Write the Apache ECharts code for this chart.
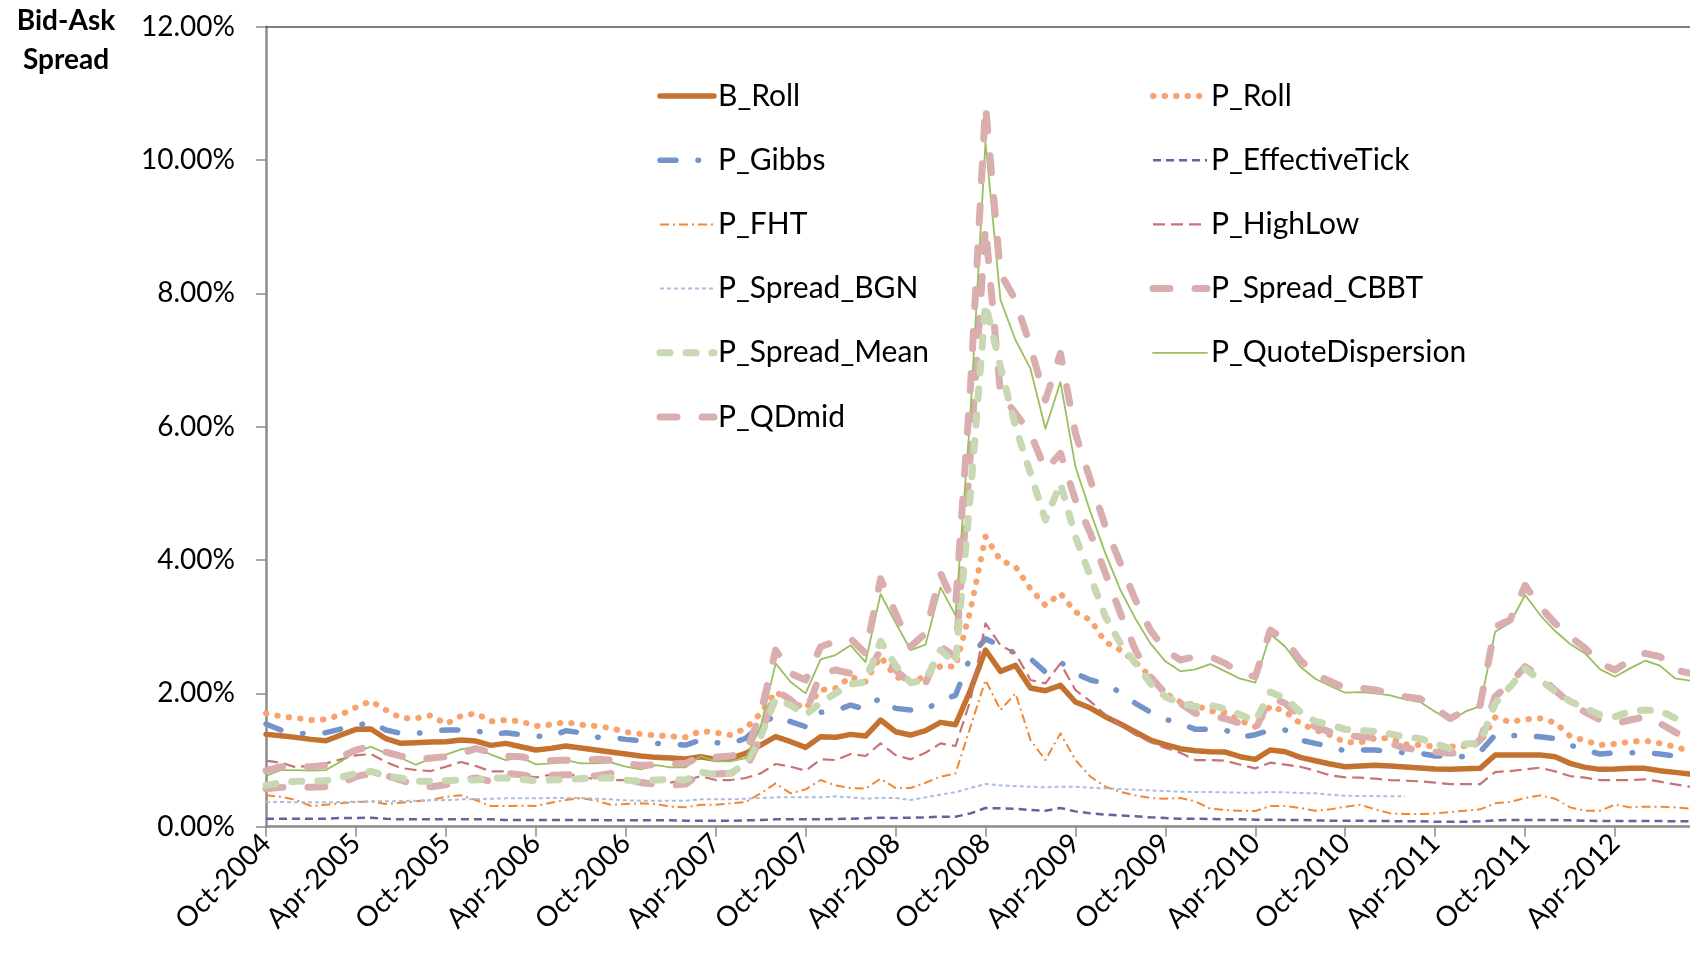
<!DOCTYPE html>
<html>
<head>
<meta charset="utf-8">
<script src="https://cdn.jsdelivr.net/npm/echarts@6/dist/echarts.min.js"></script>
<style>
html,body{margin:0;padding:0;background:#fff;}
#chart{width:1690px;height:960px;}
</style>
</head>
<body>
<div id="chart"></div>
<script>
const categories = [
"Oct-2004","Nov-2004","Dec-2004","Jan-2005","Feb-2005","Mar-2005","Apr-2005","May-2005","Jun-2005","Jul-2005","Aug-2005","Sep-2005",
"Oct-2005","Nov-2005","Dec-2005","Jan-2006","Feb-2006","Mar-2006","Apr-2006","May-2006","Jun-2006","Jul-2006","Aug-2006","Sep-2006",
"Oct-2006","Nov-2006","Dec-2006","Jan-2007","Feb-2007","Mar-2007","Apr-2007","May-2007","Jun-2007","Jul-2007","Aug-2007","Sep-2007",
"Oct-2007","Nov-2007","Dec-2007","Jan-2008","Feb-2008","Mar-2008","Apr-2008","May-2008","Jun-2008","Jul-2008","Aug-2008","Sep-2008",
"Oct-2008","Nov-2008","Dec-2008","Jan-2009","Feb-2009","Mar-2009","Apr-2009","May-2009","Jun-2009","Jul-2009","Aug-2009","Sep-2009",
"Oct-2009","Nov-2009","Dec-2009","Jan-2010","Feb-2010","Mar-2010","Apr-2010","May-2010","Jun-2010","Jul-2010","Aug-2010","Sep-2010",
"Oct-2010","Nov-2010","Dec-2010","Jan-2011","Feb-2011","Mar-2011","Apr-2011","May-2011","Jun-2011","Jul-2011","Aug-2011","Sep-2011",
"Oct-2011","Nov-2011","Dec-2011","Jan-2012","Feb-2012","Mar-2012","Apr-2012","May-2012","Jun-2012","Jul-2012","Aug-2012","Sep-2012"
];

const yTicks = [0, 2, 4, 6, 8, 10, 12];

const B_Roll = [
1.385,1.365,1.34,1.31,1.29,1.375,1.46,1.465,1.32,1.25,1.26,1.27,1.275,1.30,1.285,1.22,
1.25,1.20,1.15,1.175,1.21,1.18,1.15,1.12,1.09,1.06,1.04,1.03,1.015,1.05,1.01,
1.025,1.10,1.225,1.35,1.275,1.19,1.35,1.34,1.385,1.36,1.60,1.425,1.375,1.44,1.565,1.53,
2.05,2.65,2.33,2.42,2.08,2.04,2.12,1.87,1.78,1.65,1.54,1.42,1.30,1.23,1.17,
1.14,1.125,1.12,1.05,1.01,1.15,1.125,1.04,0.99,0.94,0.90,0.91,0.92,0.91,0.895,0.88,
0.865,0.86,0.87,0.875,1.075,1.075,1.075,1.075,1.05,0.95,0.89,0.86,0.865,0.875,0.875,0.84,0.815,0.79
];
const P_Roll = [
1.70,1.655,1.63,1.60,1.61,1.68,1.79,1.885,1.75,1.63,1.625,1.67,1.54,1.66,1.70,1.58,
1.60,1.58,1.51,1.53,1.57,1.53,1.51,1.48,1.42,1.39,1.37,1.355,1.34,1.435,1.41,
1.375,1.475,1.70,2.025,1.875,1.775,2.05,2.075,2.25,2.175,2.55,2.25,2.175,2.25,2.41,2.40,
3.25,4.35,4.0,3.9,3.57,3.32,3.5,3.22,3.1,2.77,2.65,2.47,2.25,2.0,1.87,
1.825,1.735,1.715,1.59,1.50,1.81,1.725,1.55,1.45,1.375,1.265,1.265,1.325,1.325,1.235,1.225,
1.20,1.20,1.21,1.26,1.64,1.57,1.61,1.625,1.56,1.36,1.29,1.225,1.24,1.275,1.29,1.25,1.20,1.13
];
const P_Gibbs = [
1.54,1.45,1.41,1.385,1.41,1.465,1.51,1.575,1.45,1.40,1.395,1.435,1.45,1.45,1.445,1.375,
1.41,1.38,1.36,1.35,1.44,1.41,1.34,1.34,1.31,1.29,1.25,1.24,1.225,1.30,1.26,
1.25,1.325,1.525,1.675,1.575,1.5,1.715,1.74,1.825,1.76,1.94,1.775,1.75,1.75,1.9,1.97,
2.55,2.82,2.71,2.6,2.52,2.32,2.47,2.3,2.2,2.15,2.01,1.85,1.72,1.61,1.55,
1.46,1.46,1.45,1.34,1.38,1.45,1.45,1.30,1.25,1.2,1.135,1.15,1.15,1.125,1.11,1.10,
1.06,1.06,1.05,1.125,1.375,1.37,1.36,1.35,1.32,1.225,1.15,1.09,1.11,1.11,1.115,1.09,1.06,1.01
];
const P_EffectiveTick = [
0.12,0.12,0.12,0.12,0.12,0.13,0.13,0.135,0.12,0.11,0.11,0.11,0.11,0.11,0.11,0.11,
0.10,0.10,0.10,0.10,0.10,0.10,0.10,0.095,0.095,0.095,0.095,0.095,0.09,0.09,0.09,
0.09,0.095,0.10,0.11,0.11,0.11,0.11,0.115,0.12,0.125,0.135,0.13,0.135,0.14,0.15,0.15,
0.20,0.28,0.275,0.27,0.25,0.24,0.28,0.23,0.20,0.18,0.17,0.155,0.14,0.13,0.12,
0.12,0.115,0.11,0.11,0.105,0.105,0.10,0.10,0.095,0.09,0.09,0.09,0.085,0.085,0.08,0.08,
0.075,0.075,0.075,0.08,0.095,0.10,0.10,0.10,0.10,0.095,0.09,0.085,0.085,0.085,0.085,0.085,0.08,0.08
];
const P_FHT = [
0.47,0.45,0.40,0.31,0.33,0.35,0.37,0.38,0.34,0.36,0.38,0.40,0.45,0.47,0.40,0.31,
0.31,0.315,0.31,0.36,0.40,0.43,0.39,0.33,0.34,0.35,0.34,0.30,0.29,0.33,0.33,
0.35,0.37,0.50,0.65,0.50,0.56,0.70,0.62,0.58,0.57,0.72,0.58,0.58,0.66,0.75,0.80,
1.5,2.2,1.75,2.0,1.3,1.0,1.4,1.0,0.75,0.6,0.52,0.47,0.43,0.42,0.43,
0.38,0.27,0.25,0.24,0.235,0.31,0.31,0.28,0.24,0.26,0.30,0.33,0.26,0.20,0.19,0.19,
0.20,0.22,0.24,0.26,0.35,0.37,0.43,0.47,0.42,0.29,0.24,0.24,0.33,0.29,0.30,0.30,0.29,0.27
];
const P_HighLow = [
0.99,0.96,0.89,0.92,0.95,1.01,1.07,1.09,0.97,0.88,0.85,0.835,0.90,0.97,0.91,0.83,
0.83,0.77,0.74,0.78,0.80,0.75,0.71,0.70,0.70,0.69,0.69,0.665,0.69,0.76,0.70,
0.70,0.73,0.80,0.94,0.90,0.84,1.01,1.0,1.09,1.06,1.25,1.075,1.01,1.11,1.25,1.21,
1.9,3.05,2.72,2.6,2.2,2.15,2.45,2.05,1.88,1.68,1.52,1.38,1.27,1.18,1.11,
1.0,1.0,0.99,0.93,0.875,0.96,0.93,0.90,0.84,0.77,0.74,0.735,0.72,0.70,0.69,0.68,
0.66,0.64,0.64,0.64,0.82,0.835,0.86,0.885,0.83,0.76,0.735,0.70,0.70,0.70,0.71,0.675,0.635,0.60
];
const P_Spread_BGN = [
0.37,0.37,0.365,0.365,0.365,0.37,0.375,0.38,0.38,0.385,0.39,0.395,0.40,0.41,0.415,0.42,
0.425,0.425,0.425,0.43,0.43,0.43,0.42,0.41,0.395,0.39,0.39,0.39,0.39,0.41,0.41,
0.41,0.42,0.43,0.44,0.44,0.44,0.44,0.455,0.44,0.42,0.43,0.43,0.40,0.44,0.48,0.52,
0.58,0.64,0.62,0.61,0.60,0.59,0.60,0.60,0.585,0.575,0.565,0.555,0.545,0.535,0.525,
0.52,0.52,0.515,0.51,0.51,0.52,0.515,0.505,0.50,0.48,0.465,0.46,0.46,0.455,0.455,null,
null,null,null,null,null,null,null,null,null,null,null,null,null,null,null,null,null,null
];
const P_Spread_CBBT = [
0.57,0.59,0.59,0.59,0.60,0.65,0.75,0.80,0.77,0.70,0.62,0.60,0.63,0.70,0.73,0.68,
0.80,0.78,0.74,0.77,0.78,0.77,0.76,0.80,0.72,0.66,0.64,0.62,0.64,0.80,0.79,
0.80,0.85,1.35,2.05,1.9,1.7,2.3,2.35,2.3,2.25,2.65,2.35,2.15,2.15,2.7,2.55,
5.6,9.0,6.5,6.2,5.9,5.35,5.6,4.9,4.4,3.8,3.2,2.65,2.25,2.0,1.85,
1.70,1.68,1.62,1.55,1.45,1.95,1.85,1.65,1.5,1.42,1.37,1.35,1.34,1.25,1.18,1.15,
1.12,1.10,1.12,1.3,1.95,2.15,2.4,2.25,2.05,1.85,1.72,1.6,1.55,1.6,1.65,1.55,1.42,1.3
];
const P_Spread_Mean = [
0.62,0.66,0.68,0.68,0.69,0.74,0.80,0.83,0.76,0.73,0.68,0.68,0.69,0.70,0.70,0.73,
0.73,0.71,0.69,0.70,0.71,0.72,0.73,0.73,0.70,0.68,0.70,0.71,0.70,0.82,0.78,
0.80,0.95,1.35,1.92,1.82,1.68,1.86,2.0,2.14,2.17,2.78,2.42,2.16,2.2,2.65,2.45,
5.0,7.84,6.9,6.0,5.3,4.6,5.15,4.35,3.75,3.15,2.75,2.45,2.15,1.95,1.85,
1.80,1.82,1.77,1.68,1.58,2.02,1.93,1.72,1.58,1.53,1.46,1.44,1.43,1.39,1.35,1.32,
1.25,1.17,1.24,1.25,1.85,2.1,2.37,2.2,2.03,1.88,1.78,1.68,1.65,1.73,1.75,1.74,1.63,1.58
];
const P_QuoteDispersion = [
0.76,0.85,0.85,0.84,0.85,0.98,1.12,1.20,1.10,1.03,0.93,1.02,1.08,1.16,1.20,1.08,
1.0,1.04,0.935,0.95,1.0,0.95,0.95,0.965,0.90,0.86,0.925,0.89,0.89,1.06,0.98,
0.98,1.03,1.5,2.45,2.17,2.0,2.51,2.575,2.72,2.47,3.49,3.06,2.65,2.73,3.59,3.17,
6.2,10.27,7.9,7.3,6.87,5.97,6.67,5.4,4.72,4.1,3.55,3.12,2.75,2.48,2.33,
2.36,2.44,2.33,2.22,2.16,2.89,2.70,2.40,2.22,2.11,2.01,2.02,2.0,1.97,1.91,1.87,
1.725,1.59,1.725,1.81,2.925,3.06,3.475,3.175,2.935,2.74,2.6,2.36,2.25,2.375,2.49,2.415,2.225,2.19
];
const P_QDmid = [
0.84,0.90,0.90,0.90,0.92,1.05,1.15,1.21,1.12,1.06,1.0,1.03,1.05,1.10,1.17,1.12,
1.06,1.05,1.0,0.99,1.0,0.98,1.01,1.0,0.95,0.92,0.93,0.94,0.95,1.05,1.04,
1.06,1.1,1.7,2.65,2.3,2.2,2.7,2.78,2.82,2.6,3.72,3.2,2.7,2.9,3.8,3.3,
6.6,10.82,8.3,7.9,7.2,6.4,7.1,5.9,5.2,4.5,3.95,3.4,2.95,2.65,2.5,
2.55,2.55,2.45,2.3,2.25,2.95,2.8,2.5,2.28,2.18,2.08,2.08,2.05,2.0,1.95,1.92,
1.78,1.62,1.75,1.82,3.0,3.1,3.62,3.3,3.05,2.85,2.68,2.45,2.35,2.5,2.6,2.55,2.35,2.3
];

const legendCol1 = ['B_Roll','P_Gibbs','P_FHT','P_Spread_BGN','P_Spread_Mean','P_QDmid'];
const legendCol2 = ['P_Roll','P_EffectiveTick','P_HighLow','P_Spread_CBBT','P_QuoteDispersion'];

const FONT = 'Lato, "Open Sans", sans-serif';
const PINK = '#DAAEAE';

const styles = {
  B_Roll:            { data: B_Roll, color: '#C4722F', width: 5.5, dash: null, cap: 'round' },
  P_Roll:            { data: P_Roll, color: '#F8A36E', width: 6, dash: [0.5, 11], cap: 'round' },
  P_Gibbs:           { data: P_Gibbs, color: '#7394CA', width: 5.5, dash: [16, 22, 0.5, 22], cap: 'round' },
  P_EffectiveTick:   { data: P_EffectiveTick, color: '#765AA0', width: 2.5, dash: [8, 5], cap: 'butt' },
  P_FHT:             { data: P_FHT, color: '#F08732', width: 2, dash: [9, 4, 2, 4], cap: 'butt' },
  P_HighLow:         { data: P_HighLow, color: '#C87373', width: 2.2, dash: [12, 6], cap: 'butt' },
  P_Spread_BGN:      { data: P_Spread_BGN, color: '#AABEE1', width: 2, dash: [4, 3], cap: 'butt' },
  P_Spread_CBBT:     { data: P_Spread_CBBT, color: PINK, width: 7, dash: [17, 25], cap: 'round' },
  P_Spread_Mean:     { data: P_Spread_Mean, color: '#C8D8B2', width: 7, dash: [10, 16], cap: 'round' },
  P_QuoteDispersion: { data: P_QuoteDispersion, color: '#9BBE5F', width: 1.8, dash: null, cap: 'round' },
  P_QDmid:           { data: P_QDmid, color: PINK, width: 7, dash: [17, 25], cap: 'round' }
};
const seriesOrder = ['B_Roll','P_Roll','P_Gibbs','P_EffectiveTick','P_FHT','P_HighLow','P_Spread_BGN','P_Spread_CBBT','P_Spread_Mean','P_QuoteDispersion','P_QDmid'];

const series = seriesOrder.map(function (name) {
  const s = styles[name];
  return {
    name: name, type: 'line', data: s.data, symbol: 'none', showSymbol: false,
    connectNulls: false, animation: false, silent: true,
    lineStyle: { color: s.color, width: s.width, type: s.dash || 'solid', cap: s.cap, join: 'round' },
    itemStyle: { color: s.color },
    emphasis: { disabled: true }
  };
});

// hand-built legend (two columns)
const graphics = [];
const rowY0 = 96, rowStep = 64.2;
function addLegendCol(names, x0) {
  names.forEach(function (name, i) {
    const s = styles[name];
    const y = rowY0 + i * rowStep;
    graphics.push({
      type: 'line', silent: true,
      shape: { x1: x0 + 3, y1: y, x2: x0 + 57, y2: y },
      style: { stroke: s.color, lineWidth: s.width, lineDash: s.dash, lineCap: s.cap }
    });
    graphics.push({
      type: 'text', silent: true, x: x0 + 61, y: y,
      style: { text: name, font: '30px ' + FONT, fill: '#000', verticalAlign: 'middle', align: 'left' }
    });
  });
}
addLegendCol(legendCol1, 657);
addLegendCol(legendCol2, 1150);
graphics.push({
  type: 'text', silent: true, x: 66, y: 2,
  style: { text: 'Bid-Ask\nSpread', font: 'bold 28px ' + FONT, fill: '#000', align: 'center', verticalAlign: 'top', lineHeight: 38.5 }
});

const chart = echarts.init(document.getElementById('chart'), null, { renderer: 'canvas' });
chart.setOption({
  animation: false,
  backgroundColor: '#fff',
  grid: { left: 266, right: -1, top: 26.7, bottom: 133.3, containLabel: false },
  xAxis: [{
    type: 'category', data: categories, boundaryGap: false,
    axisLine: { show: true, lineStyle: { color: '#8C8C8C', width: 2.5 } },
    axisTick: { show: true, interval: 5, length: 10, lineStyle: { color: '#8C8C8C', width: 1.5 } },
    axisLabel: { interval: 5, rotate: 45, margin: 12, fontFamily: FONT, fontSize: 28, color: '#000' },
    splitLine: { show: false }
  }, {
    type: 'category', data: categories, boundaryGap: false, position: 'top',
    axisLine: { show: true, lineStyle: { color: '#555', width: 1.5 } },
    axisTick: { show: false }, axisLabel: { show: false }, splitLine: { show: false }
  }],
  yAxis: {
    type: 'value', min: yTicks[0], max: yTicks[yTicks.length - 1], interval: 2,
    axisLine: { show: true, lineStyle: { color: '#8C8C8C', width: 2.5 } },
    axisTick: { show: true, length: 10, lineStyle: { color: '#8C8C8C', width: 1.5 } },
    axisLabel: { margin: 31, fontFamily: FONT, fontSize: 28, color: '#000',
      formatter: function (v) { return v.toFixed(2) + '%'; } },
    splitLine: { show: false }
  },
  graphic: graphics,
  series: series
});
</script>
</body>
</html>
